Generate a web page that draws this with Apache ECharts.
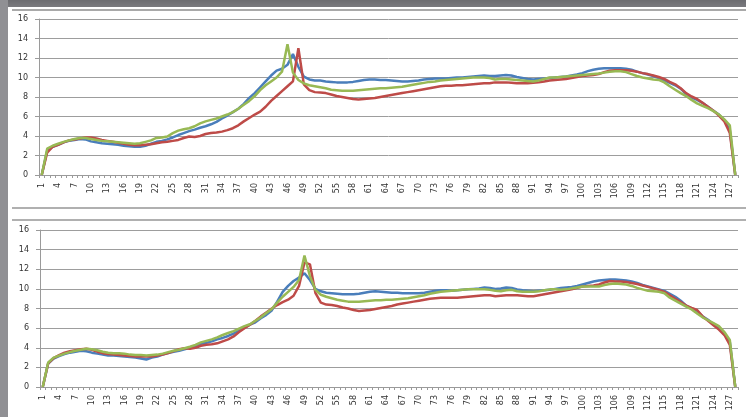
<!DOCTYPE html>
<html>
<head>
<meta charset="utf-8">
<script src="https://cdn.jsdelivr.net/npm/echarts@6/dist/echarts.min.js"></script>
<style>
html,body{margin:0;padding:0;background:#fff;}
#wrap{position:relative;width:746px;height:417px;overflow:hidden;background:#fff;}
.deco{position:absolute;}
#chart{position:absolute;left:0;top:0;width:746px;height:417px;}
</style>
</head>
<body>
<div id="wrap">
  <div class="deco" style="left:0;top:0;width:746px;height:7px;background:linear-gradient(#6c6c70,#7a7a7e);"></div>
  <div class="deco" style="left:0;top:0;width:8px;height:417px;background:#909094;"></div>
  <div class="deco" style="left:12px;top:9px;width:734px;height:2px;background:#a9a9a9;"></div>
  <div class="deco" style="left:12px;top:207px;width:734px;height:2px;background:#b0b0b0;"></div>
  <div class="deco" style="left:12px;top:219px;width:734px;height:2px;background:#b0b0b0;"></div>
  <div id="chart"></div>
</div>
<script>
// Category labels 1..128
const categories = Array.from({length: 128}, (_, i) => String(i + 1));
const yTicks = [0, 2, 4, 6, 8, 10, 12, 14, 16];

// Top chart
const topBlue = [
 0,2.5,2.9,3.1,3.35,3.5,3.6,3.7,3.65,3.45,
 3.35,3.25,3.2,3.15,3.1,3.0,2.95,2.9,2.9,3.0,
 3.2,3.4,3.5,3.65,3.85,4.1,4.3,4.5,4.65,4.85,
 5.0,5.2,5.45,5.8,6.1,6.45,6.8,7.3,7.9,8.4,
 9.0,9.6,10.2,10.7,10.9,11.3,12.4,11.1,10.1,9.8,
 9.7,9.7,9.6,9.55,9.5,9.5,9.5,9.55,9.65,9.75,
 9.8,9.8,9.75,9.75,9.7,9.65,9.6,9.6,9.65,9.7,
 9.8,9.85,9.9,9.9,9.9,9.95,10.0,10.0,10.05,10.1,
 10.15,10.2,10.15,10.15,10.2,10.25,10.2,10.05,9.95,9.85,
 9.8,9.85,9.9,9.95,10.0,10.05,10.1,10.2,10.3,10.45,
 10.65,10.8,10.9,10.95,10.95,10.95,10.95,10.9,10.8,10.6,
 10.45,10.3,10.15,9.95,9.7,9.45,9.2,8.85,8.3,7.95,
 7.7,7.4,7.0,6.6,6.2,5.6,4.6,0];
const topRed = [
 0,2.3,2.9,3.1,3.35,3.55,3.65,3.75,3.85,3.85,
 3.75,3.6,3.5,3.4,3.3,3.2,3.1,3.05,3.05,3.1,
 3.15,3.25,3.35,3.4,3.5,3.6,3.8,3.95,3.9,4.0,
 4.2,4.3,4.35,4.45,4.6,4.8,5.1,5.5,5.85,6.2,
 6.5,7.0,7.6,8.1,8.6,9.1,9.6,13.0,9.3,8.7,
 8.5,8.45,8.4,8.25,8.1,8.0,7.9,7.8,7.75,7.8,
 7.85,7.9,8.0,8.1,8.2,8.3,8.4,8.5,8.6,8.7,
 8.8,8.9,9.0,9.1,9.15,9.15,9.2,9.2,9.25,9.3,
 9.35,9.4,9.4,9.5,9.5,9.5,9.45,9.4,9.4,9.4,
 9.45,9.5,9.6,9.7,9.75,9.8,9.85,9.95,10.05,10.15,
 10.2,10.25,10.35,10.55,10.7,10.75,10.75,10.75,10.7,10.6,
 10.45,10.35,10.2,10.05,9.85,9.55,9.3,8.9,8.4,8.05,
 7.8,7.4,7.0,6.6,6.1,5.5,4.3,0];
const topGreen = [
 0,2.7,3.0,3.2,3.4,3.55,3.7,3.8,3.8,3.7,
 3.6,3.5,3.45,3.4,3.35,3.3,3.25,3.2,3.25,3.4,
 3.55,3.8,3.85,3.95,4.3,4.55,4.7,4.8,5.0,5.3,
 5.5,5.65,5.8,6.0,6.2,6.45,6.8,7.2,7.6,8.1,
 8.7,9.2,9.6,10.0,10.6,13.4,10.5,9.75,9.4,9.2,
 9.1,9.0,8.9,8.75,8.7,8.65,8.65,8.65,8.7,8.75,
 8.8,8.85,8.9,8.9,8.95,9.0,9.05,9.15,9.25,9.35,
 9.45,9.55,9.6,9.7,9.75,9.8,9.85,9.9,9.95,10.0,
 10.0,10.0,9.95,9.8,9.85,9.85,9.8,9.75,9.7,9.65,
 9.6,9.7,9.85,10.0,10.0,10.05,10.1,10.15,10.2,10.25,
 10.3,10.35,10.4,10.5,10.6,10.65,10.65,10.55,10.35,10.15,
 10.0,9.9,9.8,9.75,9.5,9.1,8.75,8.4,8.1,7.7,
 7.35,7.1,6.85,6.55,6.2,5.7,5.1,0];

// Bottom chart
const botBlue = [
 0,2.4,2.9,3.15,3.35,3.5,3.6,3.7,3.65,3.5,
 3.4,3.3,3.2,3.2,3.15,3.1,3.05,3.0,2.9,2.8,
 3.0,3.1,3.3,3.45,3.6,3.7,3.85,4.0,4.2,4.4,
 4.5,4.65,4.85,5.0,5.2,5.45,5.75,6.05,6.35,6.6,
 7.0,7.35,7.8,8.7,9.7,10.3,10.8,11.15,11.6,10.9,
 10.0,9.75,9.6,9.55,9.5,9.45,9.45,9.45,9.5,9.6,
 9.7,9.75,9.7,9.65,9.6,9.6,9.55,9.55,9.55,9.55,
 9.6,9.7,9.8,9.85,9.85,9.8,9.85,9.9,9.95,10.0,
 10.05,10.15,10.1,10.0,10.05,10.15,10.1,9.95,9.85,9.8,
 9.75,9.8,9.85,9.9,10.0,10.1,10.15,10.2,10.3,10.45,
 10.6,10.75,10.85,10.9,10.95,10.95,10.9,10.85,10.75,10.6,
 10.4,10.25,10.1,9.95,9.8,9.5,9.2,8.8,8.3,8.0,
 7.75,7.2,6.85,6.4,5.95,5.4,4.6,0];
const botRed = [
 0,2.4,2.95,3.25,3.5,3.65,3.75,3.85,3.9,3.8,
 3.6,3.45,3.35,3.3,3.25,3.2,3.15,3.1,3.1,3.1,
 3.1,3.2,3.3,3.45,3.65,3.85,3.95,3.9,4.0,4.2,
 4.3,4.35,4.45,4.65,4.85,5.15,5.6,6.0,6.35,6.75,
 7.2,7.6,8.0,8.35,8.65,8.9,9.3,10.3,12.7,12.5,
 9.6,8.6,8.4,8.35,8.25,8.1,8.0,7.85,7.75,7.8,
 7.85,7.95,8.05,8.15,8.25,8.4,8.5,8.6,8.7,8.8,
 8.9,9.0,9.05,9.1,9.1,9.1,9.1,9.15,9.2,9.25,
 9.3,9.35,9.35,9.25,9.3,9.35,9.35,9.35,9.3,9.25,
 9.25,9.35,9.45,9.55,9.65,9.75,9.85,9.95,10.1,10.25,
 10.3,10.35,10.45,10.65,10.8,10.75,10.75,10.7,10.6,10.5,
 10.35,10.2,10.05,9.9,9.7,9.35,9.0,8.65,8.3,8.05,
 7.85,7.2,6.75,6.3,5.85,5.3,4.3,0];
const botGreen = [
 0,2.5,3.0,3.2,3.4,3.55,3.7,3.8,3.9,3.85,
 3.75,3.6,3.5,3.45,3.45,3.4,3.3,3.25,3.25,3.2,
 3.25,3.3,3.4,3.55,3.7,3.8,3.95,4.1,4.3,4.55,
 4.7,4.85,5.05,5.3,5.5,5.7,5.95,6.2,6.4,6.75,
 7.1,7.55,7.95,8.6,9.2,9.7,10.2,10.9,13.4,11.3,
 9.9,9.4,9.2,9.05,8.9,8.8,8.7,8.7,8.7,8.75,
 8.8,8.85,8.85,8.9,8.9,8.95,9.0,9.05,9.15,9.25,
 9.35,9.5,9.6,9.7,9.75,9.8,9.85,9.9,9.95,9.95,
 9.95,9.95,9.9,9.8,9.75,9.85,9.9,9.75,9.7,9.7,
 9.7,9.75,9.85,9.95,9.95,9.9,9.95,10.05,10.15,10.25,
 10.25,10.25,10.25,10.4,10.5,10.55,10.5,10.45,10.3,10.1,
 9.95,9.8,9.75,9.7,9.55,9.1,8.8,8.5,8.2,7.9,
 7.5,7.1,6.8,6.5,6.2,5.6,4.8,0];

const colors = {blue: '#4A7EBB', red: '#BE4B48', green: '#98B954'};

const chart = echarts.init(document.getElementById('chart'), null, {renderer: 'canvas'});

function xAxisFor(gridIndex) {
  return {
    type: 'category', gridIndex, data: categories, boundaryGap: true,
    axisLine: {show: true, lineStyle: {color: '#9a9a9a', width: 1}},
    axisTick: {show: true, interval: 0, length: 3, lineStyle: {color: '#9a9a9a'}},
    axisLabel: {interval: 2, rotate: 90, fontSize: 8, color: '#333', margin: 8,
                fontFamily: 'DejaVu Sans'},
    splitLine: {show: false}
  };
}
function yAxisFor(gridIndex) {
  return {
    type: 'value', gridIndex, min: yTicks[0], max: yTicks[yTicks.length - 1], interval: 2,
    axisLine: {show: true, lineStyle: {color: '#9a9a9a', width: 1}},
    axisTick: {show: true, length: 4, lineStyle: {color: '#9a9a9a'}},
    axisLabel: {fontSize: 8, color: '#333', margin: 11, fontFamily: 'DejaVu Sans'},
    splitLine: {show: true, lineStyle: {color: '#9d9d9d', width: 1}}
  };
}
function line(name, data, color, idx) {
  return {
    name, type: 'line', data, xAxisIndex: idx, yAxisIndex: idx,
    showSymbol: false, symbol: 'none', smooth: false,
    lineStyle: {color, width: 2.5}, itemStyle: {color},
    animation: false
  };
}

chart.setOption({
  backgroundColor: 'transparent',
  animation: false,
  grid: [
    {left: 39, right: 8, top: 19, height: 156},
    {left: 40, right: 8, top: 230, height: 157}
  ],
  xAxis: [xAxisFor(0), xAxisFor(1)],
  yAxis: [yAxisFor(0), yAxisFor(1)],
  series: [
    line('blue1', topBlue, colors.blue, 0),
    line('red1', topRed, colors.red, 0),
    line('green1', topGreen, colors.green, 0),
    line('blue2', botBlue, colors.blue, 1),
    line('red2', botRed, colors.red, 1),
    line('green2', botGreen, colors.green, 1)
  ]
});
</script>
</body>
</html>
